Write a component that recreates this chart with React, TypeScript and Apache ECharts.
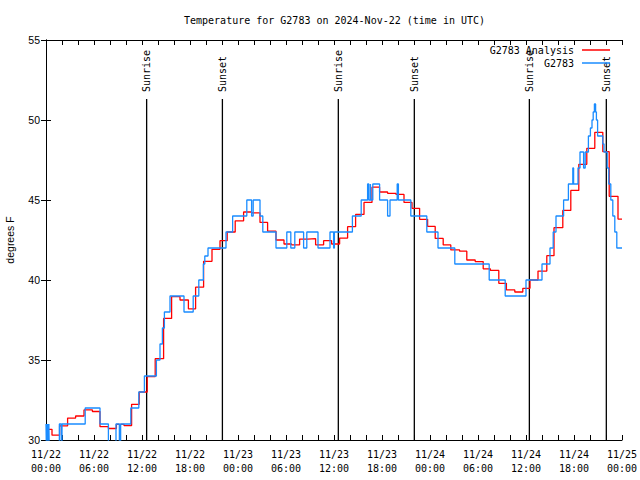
import React, { useEffect, useRef } from 'react';
import * as echarts from 'echarts';

const titleText = 'Temperature for G2783 on 2024-Nov-22 (time in UTC)';
const seriesNames = ['G2783 Analysis', 'G2783'];
const yAxisName = 'degrees F';
const xTickLabels = [
  '11/22\n00:00', '11/22\n06:00', '11/22\n12:00', '11/22\n18:00',
  '11/23\n00:00', '11/23\n06:00', '11/23\n12:00', '11/23\n18:00',
  '11/24\n00:00', '11/24\n06:00', '11/24\n12:00', '11/24\n18:00',
  '11/25\n00:00',
];

// hours since 2024-11-22 00:00 UTC
const analysisHours = [
  0.1, 0.75, 1.7, 2.7, 3.7, 4.75, 5.8, 6.75, 7.8, 8.8, 9.75, 10.7, 11.65, 12.65, 13.65,
  14.7, 15.7, 16.75, 17.8, 18.7, 19.7, 20.75, 21.75, 22.65, 23.65, 24.7, 25.7, 26.75,
  27.7, 28.75, 29.75, 30.7, 31.7, 32.7, 33.7, 34.7, 35.7, 36.7, 37.7, 38.7, 39.75,
  40.75, 41.7, 42.7, 43.75, 44.75, 45.75, 46.7, 47.7, 48.65, 49.65, 50.6, 51.7, 52.6,
  53.65, 54.65, 55.55, 56.6, 57.55, 58.6, 59.6, 60.5, 61.5, 62.6, 63.5, 64.6, 65.6,
  66.6, 67.6, 68.6, 69.6, 70.4, 71.5, 72,
];
const analysisTemps = [
  30.67, 30.3, 30.88, 31.37, 31.5, 31.88, 31.78, 30.83, 30.72, 30.98, 30.9, 32.23, 33.0,
  33.96, 35.08, 37.6, 38.96, 38.75, 38.2, 39.55, 41.17, 41.92, 42.46, 43.0, 43.7, 44.25,
  44.2, 43.6, 43.05, 42.5, 42.25, 42.2, 42.56, 42.58, 42.2, 42.46, 42.25, 42.62, 43.33,
  44.1, 44.85, 45.8, 45.5, 45.42, 45.35, 44.85, 44.48, 43.79, 43.35, 42.6, 42.19, 41.88,
  41.8, 41.25, 41.15, 40.7, 40.6, 39.79, 39.38, 39.25, 39.48, 40.0, 40.56, 41.52, 43.27,
  44.35, 45.6, 47.23, 48.23, 49.23, 48.02, 45.23, 43.81, 43.81,
];

const obsHours = [
  0.0, 0.06, 0.1, 0.16, 0.22, 0.3, 0.36, 0.42, 1.67, 1.9, 2.0, 4.9, 6.75, 7.8, 8.75, 9.17,
  9.33, 10.6, 11.6, 12.3, 13.8, 14.25, 14.55, 14.8, 15.5, 17.25, 18.4, 19.1, 19.67, 19.85,
  20.25, 22.5, 23.33, 25.1, 25.7, 25.9, 26.75, 27.1, 28.75, 30.1, 30.6, 31.1, 32.2, 32.6,
  34.0, 35.5, 35.95, 36.05, 38.3, 39.4, 40.2, 40.35, 40.55, 40.62, 40.85, 41.7, 42.7, 43.0,
  43.9, 44.05, 45.6, 47.6, 49.0, 51.1, 55.4, 57.4, 60.0, 62.0, 63.0, 63.4, 63.75, 64.7,
  65.3, 65.85, 65.95, 66.5, 66.75, 67.2, 67.4, 67.8, 68.05, 68.25, 68.4, 68.55, 68.7, 68.8,
  68.95, 69.6, 69.75, 70.15, 70.35, 70.6, 70.85, 71.1, 71.35, 72,
];
const obsTemps = [
  31, 29, 31, 29, 31, 29, 31, 29, 31, 29, 31, 32, 31, 29, 31, 29,
  31, 32, 33, 34, 35, 36, 37, 38, 39, 38, 39, 40, 41, 41.5,
  42, 43, 44, 45, 44, 45, 44, 43, 42, 43, 42, 43, 42, 43,
  42, 43, 42, 43, 44, 45, 46, 45, 46, 45, 46, 45, 44, 45,
  46, 45, 44, 43, 42, 41, 40, 39, 40, 41, 42, 43, 44, 45,
  46, 47, 46, 47, 48, 47, 48, 49, 49.5, 50, 50.5, 51, 50.5, 50,
  49, 48.5, 48, 47, 46, 45, 44, 43, 42, 42,
];

const sunHours = [12.58, 22.05, 36.54, 46.04, 60.42, 70.04];
const sunLabels = ['Sunrise', 'Sunset', 'Sunrise', 'Sunset', 'Sunrise', 'Sunset'];

export default function App() {
  const ref = useRef<HTMLDivElement>(null);
  useEffect(() => {
    if (!ref.current) return;
    const chart = echarts.init(ref.current, null, { renderer: 'svg' });
    const mono = '"DejaVu Sans Mono", monospace';
    const sans = '"Liberation Sans", Arial, sans-serif';
    const lineTop = 51.31;
    const red = '#ff0000';
    const blue = '#1a8cff';

    const xBase = {
      type: 'value',
      min: 0,
      max: 72,
      interval: 2,
      splitLine: { show: false },
      axisLine: { show: true, lineStyle: { color: '#000', width: 1 } },
      axisTick: { show: true, inside: true, length: 5, lineStyle: { color: '#000' } },
    };
    const yBase = {
      type: 'value',
      min: 30,
      max: 55,
      interval: 5,
      splitLine: { show: false },
      axisLine: { show: true, lineStyle: { color: '#000', width: 1 } },
      axisTick: { show: true, inside: true, length: 5, lineStyle: { color: '#000' } },
    };

    const legendBase = {
      orient: 'vertical',
      right: 30,
      align: 'right',
      icon: 'rect',
      itemWidth: 28,
      itemHeight: 1.5,
      padding: 0,
      selectedMode: false,
      textStyle: { fontFamily: mono, fontSize: 10, color: '#000', padding: [0, 3, 0, 0] },
    };

    chart.setOption({
      animation: false,
      backgroundColor: '#fff',
      title: {
        text: titleText,
        left: 184,
        top: 15,
        padding: 0,
        textStyle: { fontFamily: mono, fontSize: 10, fontWeight: 'normal', color: '#000' },
      },
      legend: [
        { ...legendBase, top: 45, data: [seriesNames[0]] },
        { ...legendBase, top: 58, data: [seriesNames[1]] },
      ],
      grid: { left: 46, top: 40, right: 18, bottom: 40, containLabel: false, outerBoundsMode: 'none' },
      xAxis: [
        {
          ...xBase,
          position: 'bottom',
          axisLabel: {
            show: true,
            showMinLabel: true,
            showMaxLabel: true,
            margin: 7,
            fontFamily: mono,
            fontSize: 10,
            lineHeight: 14,
            color: '#000',
            formatter: (v: number) => (Math.round(v) % 6 === 0 ? xTickLabels[Math.round(v) / 6] : ''),
          },
        },
        { ...xBase, position: 'top', axisLabel: { show: false } },
      ],
      yAxis: [
        {
          ...yBase,
          position: 'left',
          name: yAxisName,
          nameLocation: 'middle',
          nameGap: 31,
          nameTextStyle: { fontFamily: sans, fontSize: 10.5, color: '#000' },
          axisLabel: { show: true, margin: 6, fontFamily: sans, fontSize: 10.5, color: '#000' },
        },
        { ...yBase, position: 'right', axisLabel: { show: false } },
      ],
      series: [
        {
          name: seriesNames[0],
          type: 'line',
          step: 'end',
          symbol: 'none',
          clip: true,
          data: analysisHours.map((h, i) => [h, analysisTemps[i]]),
          lineStyle: { color: red, width: 1.3 },
          itemStyle: { color: red },
          z: 3,
        },
        {
          name: seriesNames[1],
          type: 'line',
          step: 'end',
          symbol: 'none',
          clip: true,
          data: obsHours.map((h, i) => [h, obsTemps[i]]),
          lineStyle: { color: blue, width: 1.3 },
          itemStyle: { color: blue },
          z: 4,
        },
        {
          type: 'custom',
          data: sunHours.map((h) => [h, 30]),
          z: 2,
          renderItem: (params: any, api: any) => {
            const t = api.value(0);
            const p0 = api.coord([t, 30]);
            const p1 = api.coord([t, lineTop]);
            return {
              type: 'group',
              children: [
                {
                  type: 'line',
                  shape: { x1: p0[0], y1: p0[1], x2: p1[0], y2: p1[1] },
                  style: { stroke: '#000', lineWidth: 1.3 },
                },
                {
                  type: 'text',
                  x: p1[0],
                  y: p1[1] - 7,
                  rotation: Math.PI / 2,
                  style: {
                    text: sunLabels[params.dataIndex],
                    fill: '#000',
                    font: `10px ${mono}`,
                    align: 'left',
                    verticalAlign: 'middle',
                  },
                },
              ],
            };
          },
        },
      ],
    });
    return () => chart.dispose();
  }, []);
  return (
    <div
      ref={ref}
      style={{ position: 'absolute', left: 0, top: 0, width: 640, height: 480, background: '#fff' }}
    />
  );
}
